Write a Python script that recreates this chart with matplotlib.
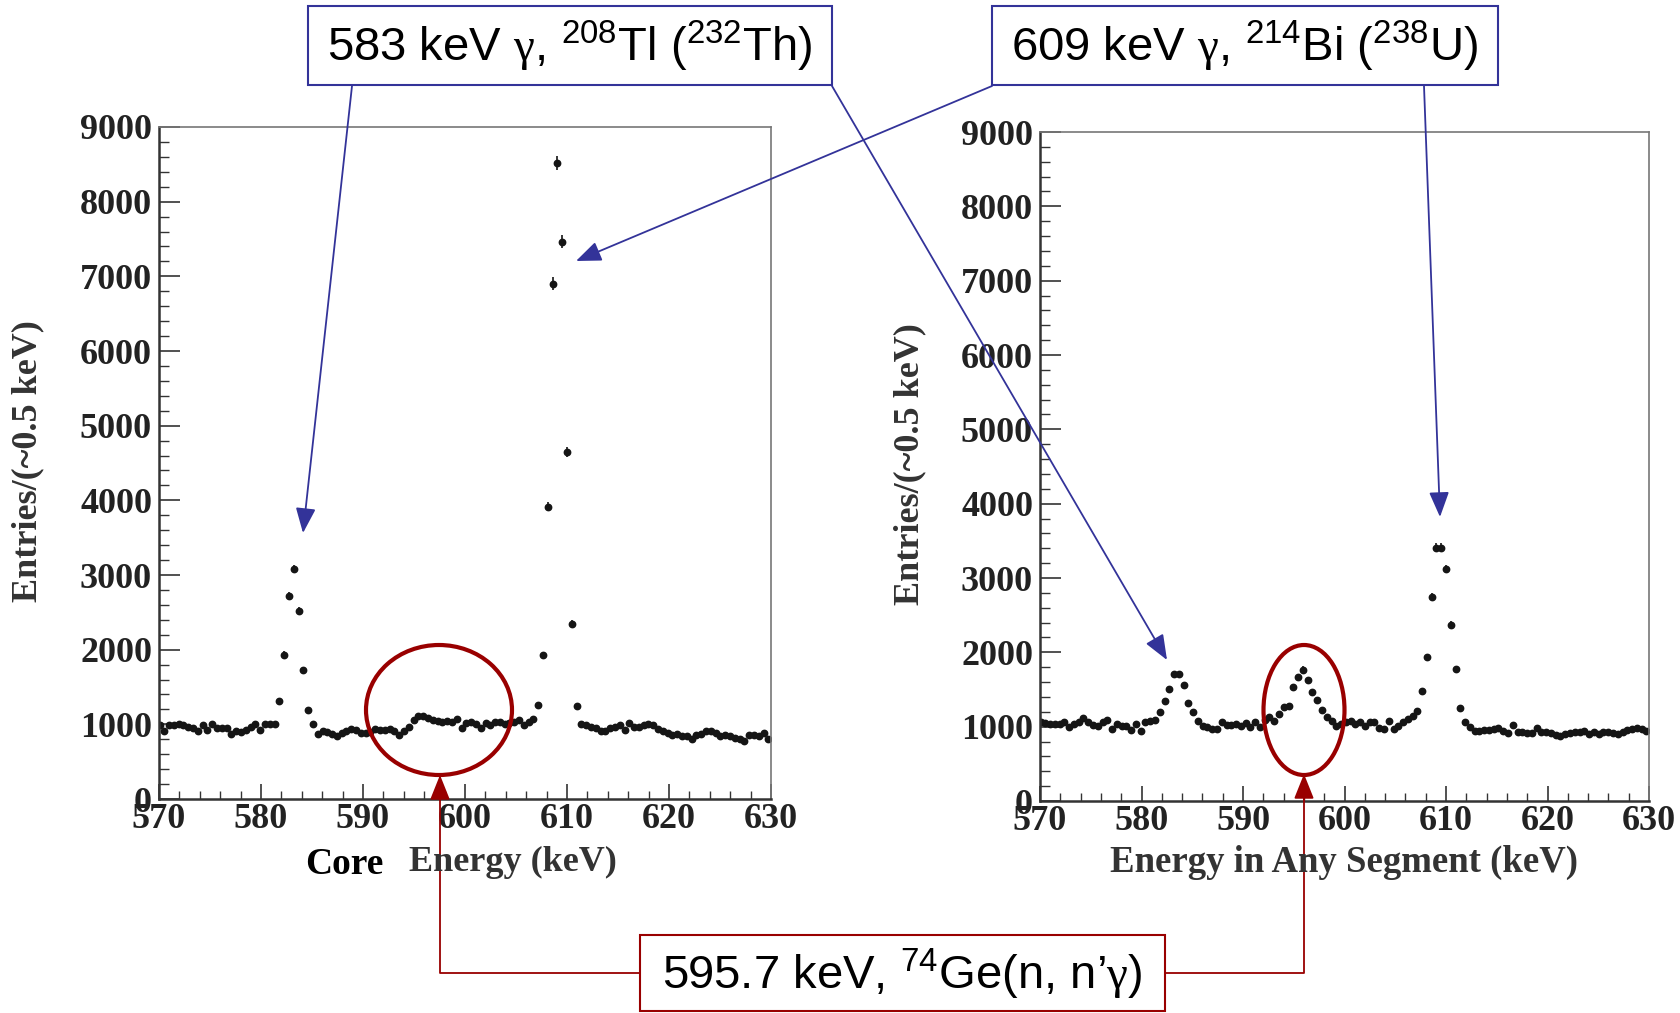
import numpy as np
import matplotlib
matplotlib.use("Agg")
import matplotlib.pyplot as plt
from matplotlib.patches import Ellipse, Rectangle
from matplotlib.ticker import MultipleLocator

plt.rcParams['mathtext.fontset'] = 'custom'
plt.rcParams['mathtext.rm'] = 'Liberation Sans'
plt.rcParams['mathtext.it'] = 'Liberation Sans:italic'
plt.rcParams['mathtext.bf'] = 'Liberation Sans:bold'
plt.rcParams['mathtext.sf'] = 'Liberation Serif'

# ---------------- data ----------------
bin_start = 570.05   # keV, centre of first bin
bin_width = 0.47     # keV (~0.5 keV)
n_bins = 128
energy = bin_start + bin_width * np.arange(n_bins)

core_counts = [
    990, 910, 990, 990, 1000, 990, 970, 950, 905, 990, 925, 1010, 955, 950, 950,
    870, 905, 895, 925, 970, 1010, 925, 1000, 1000, 1000,
    1317, 1934, 2725, 3084, 2515, 1725, 1198,
    1000, 870, 905, 895, 875, 840, 890, 905, 940, 925, 890, 885, 895, 940, 925,
    925, 940, 915, 860, 915, 970, 1055, 1110, 1110, 1085, 1055, 1045, 1035, 1045,
    1035, 1075, 950,
    1013, 1035, 1000, 950, 1013, 990, 1025, 1035, 1000, 1013, 1035, 1055, 990,
    1035, 1070,
    1260, 1928, 3916, 6904, 8521, 7461, 4647, 2347, 1240,
    1010, 990, 970, 950, 915, 905, 950, 970, 990, 925, 1013, 970, 970, 990, 1000,
    985, 940, 905, 885, 860, 870, 840, 840, 800, 860, 870, 905, 905, 885, 840,
    860, 840, 820, 800, 775, 855, 855, 840, 885, 800,
]

segment_counts = [
    1058, 1045, 1036, 1036, 1030, 1067, 991, 1036, 1067, 1112, 1058, 1022, 1004,
    1058, 1094, 969, 1036, 1013, 1013, 960, 1036, 946, 1058, 1072, 1085,
    1193, 1347, 1503, 1702, 1702, 1563, 1323, 1203, 1076,
    1013, 991, 969, 969, 1067, 1022, 1022, 1036, 1013, 1049, 991, 1058, 991, 1094,
    1125, 1081, 1170, 1260, 1282, 1529, 1666, 1768, 1624, 1467, 1365, 1227, 1124,
    1082, 1004,
    1030, 1058, 1081, 1036, 1058, 1013, 1058, 1058, 978, 969, 1081, 969, 1013,
    1067, 1103,
    1148, 1215, 1480, 1936, 2748, 3410, 3410, 3121, 2369, 1774, 1257, 1064, 991,
    946, 946, 960, 960, 969, 978, 946, 915, 1022, 924, 924, 915, 915, 978, 933,
    933, 915, 888, 879, 897, 915, 924, 924, 946, 901, 933, 901, 933, 924, 915,
    901, 924, 960, 969, 978, 969, 946,
]

x_range = (570, 630)
y_range = (0, 9000)
x_ticks = [570, 580, 590, 600, 610, 620, 630]
y_ticks = [0, 1000, 2000, 3000, 4000, 5000, 6000, 7000, 8000, 9000]

ylabel_text = "Entries/(~0.5 keV)"
left_xlabel = "Energy (keV)"
left_xlabel_prefix = "Core"
right_xlabel = "Energy in Any Segment (keV)"

label_583 = r"583 keV $\mathsf{γ}$, $^{208}$Tl ($^{232}$Th)"
label_609 = r"609 keV $\mathsf{γ}$, $^{214}$Bi ($^{238}$U)"
label_596 = r"595.7 keV, $^{74}$Ge(n, n’$\mathsf{γ}$)"

# ---------------- figure ----------------
W, H = 1681, 1013
fig = plt.figure(figsize=(W / 100, H / 100), dpi=100)
fig.patch.set_facecolor("white")

def px_axes(x0, y0, x1, y1):
    return fig.add_axes([x0 / W, 1 - y1 / H, (x1 - x0) / W, (y1 - y0) / H])

serif = "Liberation Serif"
tick_color = "#222222"

def style_axes(ax):
    ax.set_xlim(*x_range)
    ax.set_ylim(*y_range)
    ax.set_xticks(x_ticks)
    ax.set_yticks(y_ticks)
    ax.xaxis.set_minor_locator(MultipleLocator(2))
    ax.yaxis.set_minor_locator(MultipleLocator(200))
    ax.tick_params(axis="both", which="both", direction="in", top=False, right=False,
                   colors="#333333", labelcolor=tick_color)
    ax.tick_params(axis="y", which="major", length=15, width=1.2, pad=5)
    ax.tick_params(axis="y", which="minor", length=7.5, width=1.0)
    ax.tick_params(axis="x", which="major", length=11, width=1.2, pad=3)
    ax.tick_params(axis="x", which="minor", length=6, width=1.0)
    for lab in ax.get_xticklabels() + ax.get_yticklabels():
        lab.set_fontfamily(serif)
        lab.set_fontweight("bold")
        lab.set_fontsize(26)
    for s in ["left", "bottom"]:
        ax.spines[s].set_linewidth(1.8)
        ax.spines[s].set_color("#333333")
    for s in ["top", "right"]:
        ax.spines[s].set_linewidth(1.2)
        ax.spines[s].set_color("#777777")

ax1 = px_axes(159, 127, 771, 799)
ax2 = px_axes(1040, 132, 1649, 801)

for ax, counts in [(ax1, core_counts), (ax2, segment_counts)]:
    c = np.array(counts, dtype=float)
    ax.errorbar(energy, c, yerr=np.sqrt(c), fmt="o", ms=4.6, color="#151515",
                ecolor="#151515", elinewidth=1.2, capsize=0, clip_on=True)
    style_axes(ax)

# ---------------- overlay (pixel coordinates) ----------------
ov = fig.add_axes([0, 0, 1, 1], zorder=10)
ov.set_xlim(0, W)
ov.set_ylim(H, 0)
ov.axis("off")
ov.patch.set_alpha(0)

blue = "#333399"
red = "#990000"

# axis titles
ov.text(28, 461, ylabel_text, rotation=90, ha="center", va="center",
        fontfamily=serif, fontweight="bold", fontsize=26, color="#333333")
ov.text(910, 464, ylabel_text, rotation=90, ha="center", va="center",
        fontfamily=serif, fontweight="bold", fontsize=26, color="#333333")
ov.text(513, 862, left_xlabel, ha="center", va="center",
        fontfamily=serif, fontweight="bold", fontsize=26, color="#333333")
ov.text(344, 864, left_xlabel_prefix, ha="center", va="center",
        fontfamily=serif, fontweight="bold", fontsize=27, color="black")
ov.text(1344, 862, right_xlabel, ha="center", va="center",
        fontfamily=serif, fontweight="bold", fontsize=26.5, color="#333333")

def arrow(start, tip, color):
    ov.annotate("", xy=tip, xytext=start,
                arrowprops=dict(arrowstyle="-|>,head_length=0.7,head_width=0.28",
                                color=color, lw=1.3, mutation_scale=22,
                                shrinkA=0, shrinkB=0))

# ellipses
ov.add_patch(Ellipse((439, 710), 146, 130, fill=False, ec=red, lw=3))
ov.add_patch(Ellipse((1304, 710), 81, 130, fill=False, ec=red, lw=3))

# blue arrows
arrow((352, 86), (303, 533), blue)
arrow((832, 86), (1167, 660), blue)
arrow((992, 86), (576, 261), blue)
arrow((1424, 86), (1440, 517), blue)

# red connectors
ov.plot([640, 440, 440], [973, 973, 795], color=red, lw=1.3)
arrow((440, 800), (440, 775), red)
ov.plot([1165, 1304, 1304], [973, 973, 795], color=red, lw=1.3)
arrow((1304, 800), (1304, 774), red)

# boxes
def box(x0, y0, x1, y1, color, text):
    ov.add_patch(Rectangle((x0, y0), x1 - x0, y1 - y0, fc="white", ec=color, lw=1.5, zorder=5))
    ov.text((x0 + x1) / 2, (y0 + y1) / 2 + 1, text, ha="center", va="center",
            fontfamily="Liberation Sans", fontsize=34, color="black", zorder=6)

box(308, 6, 832, 85, blue, label_583)
box(992, 6, 1498, 85, blue, label_609)
box(640, 935, 1165, 1011, red, label_596)

fig.savefig("out.png", dpi=100)
